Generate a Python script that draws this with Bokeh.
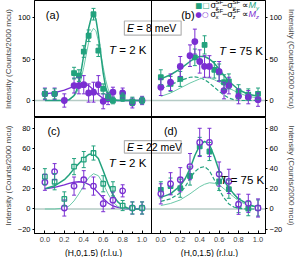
from bokeh.plotting import figure
from bokeh.layouts import gridplot
from bokeh.models import (ColumnDataSource, Whisker, TeeHead, Label, BoxAnnotation, Span,
                          LinearAxis, FixedTicker, Range1d, CustomJSTickFormatter)
from bokeh.embed import file_html
from bokeh.resources import INLINE

GREEN = "#23a27e"
GREEN_L = "#6cc9a9"
PURPLE = "#7a2fd2"
ZERO = "#b5cbc5"
FONT = "Liberation Sans"

# ---------------- data ----------------
x_ticks = [0.0, 0.2, 0.4, 0.6, 0.8, 1.0]
x_minor = [0.1, 0.3, 0.5, 0.7, 0.9]
y_ticks_top = [0, 50, 100]
y_ticks_bot = [-20, 0, 20, 40, 60, 80]

# (a) E = 8 meV, T = 2 K
xa_my = [0.0, 0.1, 0.3, 0.35, 0.4, 0.45, 0.5, 0.55, 0.6, 0.65, 0.7, 0.8, 0.9, 1.0]
ya_my = [8, 8, 33, 30, 59, 78, 104, 60, 14, 5, 0, 4, -1, 0]
ea_my = [6, 6, 7, 7, 7, 7, 7, 7, 6, 5, 4, 5, 5, 4]
xa_mz = [0.0, 0.1, 0.2, 0.3, 0.35, 0.4, 0.45, 0.5, 0.55, 0.6, 0.65, 0.7, 0.8, 0.9, 1.0]
ya_mz = [8, 8, 0, 18, 18, 19, 9, 10, 19, -1, 2, 10, 9, -3, 0]
ea_mz = [7, 7, 8, 9, 10, 11, 11, 12, 11, 9, 7, 6, 6, 6, 5]
fa_x = [0.0, 0.2, 0.25, 0.3, 0.325, 0.35, 0.375, 0.4, 0.425, 0.45, 0.475, 0.5, 0.525, 0.55, 0.575, 0.6, 0.625, 0.65, 0.675, 0.7, 0.75, 1.0]
fa_thick = [0, 0, 1, 6, 12, 22, 37, 55, 72, 87, 99, 104, 98, 80, 56, 33, 16, 7, 2, 0.5, 0, 0]
fa_thin = [0, 0, 1, 5, 9, 16, 27, 40, 55, 70, 82, 87, 84, 72, 56, 40, 25, 14, 7, 3, 0.5, 0]
fa_mz_x = [0.0, 0.1, 0.2, 0.3, 0.35, 0.4, 0.45, 0.5, 0.55, 0.6, 0.65, 0.7, 1.0]
fa_mz = [8, 9.5, 12.5, 17, 19, 20, 18, 13, 7, 2.5, 0.5, 0, 0]

# (b) E = 8 meV, T = 75 K
xb_my = [0.0, 0.1, 0.2, 0.35, 0.45, 0.55, 0.6, 0.65, 0.7, 0.8, 0.9, 1.0]
yb_my = [28, 20, 26, 52, 67, 37, 34, 22, 23, 11, 7, 8]
eb_my = [9, 9, 9, 10, 11, 10, 10, 9, 9, 8, 7, 7]
xb_mz = [0.0, 0.1, 0.2, 0.3, 0.35, 0.4, 0.45, 0.5, 0.6, 0.65, 0.7, 0.8, 0.9, 1.0]
yb_mz = [16, 22, 41, 54, 71, 47, 41, 41, 35, 12, 18, 5, 4, 1]
eb_mz = [10, 10, 12, 13, 15, 14, 13, 13, 12, 10, 10, 9, 8, 8]
fb_x = [0.0, 0.1, 0.2, 0.3, 0.35, 0.4, 0.45, 0.5, 0.55, 0.6, 0.65, 0.7, 0.75, 0.8, 0.9, 1.0]
fb_thick = [26, 31, 38, 47, 51, 53, 53, 50, 45, 38, 30, 23, 18, 13, 7.5, 5]
fb_dash = [14, 19, 24, 28, 28.5, 27.5, 25, 21, 16, 11, 6.5, 3, 1, 0, 0, 0]
fb_thin = [5, 9, 15, 21, 23.5, 26, 27.5, 27, 25, 22, 18.5, 15, 12, 9, 5, 3]

# (c) E = 22 meV, T = 2 K
xc = [0.0, 0.1, 0.2, 0.3, 0.4, 0.5, 0.6, 0.7, 0.8, 0.9, 1.0]
yc_my = [32, 27, 10, 42, 49, 55.5, 25, 20, 3.4, 1, 1]
ec_my = [8, 8, 7, 8, 8, 7, 8, 7, 5, 6, 6]
yc_mz = [26.5, 37, 1, 22.7, 29, 22.7, 5.3, 8.7, 18, 1, 1]
ec_mz = [8, 8, 8, 9, 9, 9, 8, 8, 6, 6, 6]
fc_x = [0.0, 0.1, 0.2, 0.25, 0.3, 0.35, 0.4, 0.45, 0.5, 0.55, 0.6, 0.65, 0.7, 0.75, 0.8, 0.85, 0.9, 1.0]
fc_thick = [20, 23, 29, 34, 40, 45, 50, 54, 55, 50, 38, 25, 14, 7, 3, 1, 0.3, 0]
fc_thin = [0, 0, 1, 3, 8, 15, 23, 31, 35, 33, 25, 15, 7, 2.5, 0.5, 0, 0, 0]
fc_mz = [20, 21.5, 24, 25.5, 26.5, 27, 26.5, 24.5, 21, 16, 10.5, 6, 3, 1.5, 0.5, 0.2, 0, 0]

# (d) E = 22 meV, T = 75 K
xd = [0.0, 0.1, 0.2, 0.3, 0.4, 0.5, 0.6, 0.7, 0.8, 0.9, 1.0]
yd_my = [19, 22.7, 20.6, 32.7, 62, 57, 27.4, 19.6, 3.4, 0.3, 1]
ed_my = [8, 8, 9, 9, 9, 9, 9, 9, 7, 7, 8]
yd_mz = [15, 25, 29, 42, 66, 66, 34.6, 27.4, 4.7, 5.6, 1]
ed_mz = [10, 11, 12, 13, 14, 14, 12, 12, 10, 9, 9]
fd_x = [0.0, 0.1, 0.2, 0.25, 0.3, 0.35, 0.4, 0.45, 0.5, 0.55, 0.6, 0.65, 0.7, 0.75, 0.8, 0.9, 1.0]
fd_thick = [11.5, 15, 23, 30, 40, 53, 63, 67, 64, 52, 38, 28, 21, 15, 10, 4.5, 1.5]
fd_dash = [7.5, 10, 16, 22, 30, 37, 41, 42, 38, 29, 19, 11, 5, 2, 0.5, 0, 0]
fd_thin = [3.4, 5.5, 9, 12, 15, 18.5, 22, 24.5, 26, 25.5, 24, 20, 16, 12, 8, 3.5, 1.5]

# ---------------- layout ----------------
# each row is one figure: the left panel uses the default x range, the right
# panel uses the extra range "R" (same scale, shifted)
LEFT_LO, LEFT_HI = -0.107, 1.097
RIGHT_LO, RIGHT_W = -0.096, 1.173
OFF = LEFT_HI - RIGHT_LO
X_DEF = (LEFT_LO, LEFT_HI + RIGHT_W)
X_R = (LEFT_LO - OFF, LEFT_HI + RIGHT_W - OFF)
YR_T = (-20.5, 120.5)
YR_B = (-24.3, 90.7)
FW, FH_T, FH_B = 231, 117, 116
BL, BR, BB, FH_LAB = 27, 30, 13, 11

YLAB = "Intensity (Counts/2000 mcu)"
XLAB = "(H,0,1.5) (r.l.u.)"


def make_row(yr, fh, bb, frame=True):
    p = figure(frame_width=FW, frame_height=fh, x_range=Range1d(*X_DEF), y_range=Range1d(*yr),
               output_backend="svg", toolbar_location=None,
               x_axis_location=None, y_axis_location=None,
               min_border_left=BL, min_border_right=BR, min_border_top=0, min_border_bottom=bb)
    p.extra_x_ranges = {"R": Range1d(*X_R)}
    p.xgrid.visible = False
    p.ygrid.visible = False
    p.background_fill_color = "white"
    p.border_fill_color = "white"
    if frame:
        p.outline_line_color = "black"
        p.outline_line_width = 1
        p.add_layout(Span(location=0, dimension="width", line_color=ZERO, line_width=1.6, level="underlay"))
        p.add_layout(Span(location=LEFT_HI, dimension="height", line_color="black", line_width=1, level="overlay"))
    else:
        p.outline_line_color = None
    return p


def yaxis(p, side, ticks):
    ax = LinearAxis(ticker=FixedTicker(ticks=ticks))
    ax.axis_line_color = "black"
    ax.major_tick_line_color = "black"
    ax.major_tick_in = 0
    ax.major_tick_out = 2
    ax.minor_tick_in = 0
    ax.minor_tick_out = 0
    ax.major_label_text_font = FONT
    ax.major_label_text_font_size = "7.5px"
    ax.major_label_text_color = "black"
    ax.major_label_standoff = 2
    ax.axis_label = YLAB
    ax.axis_label_text_font = FONT
    ax.axis_label_text_font_size = "8px"
    ax.axis_label_text_font_style = "normal"
    ax.axis_label_standoff = 2
    p.add_layout(ax, side)


def xaxis(p):
    ticks = x_ticks + [round(t + OFF, 4) for t in x_ticks]
    minor = x_minor + [round(t + OFF, 4) for t in x_minor]
    ax = LinearAxis(ticker=FixedTicker(ticks=ticks, minor_ticks=minor))
    ax.formatter = CustomJSTickFormatter(args=dict(off=OFF, edge=LEFT_HI),
                                         code="const v = tick > edge ? tick - off : tick; return v.toFixed(1);")
    ax.axis_line_color = "black"
    ax.major_tick_line_color = "black"
    ax.minor_tick_line_color = "black"
    ax.major_tick_in = 3
    ax.major_tick_out = 0
    ax.minor_tick_in = 2
    ax.minor_tick_out = 0
    ax.major_label_text_font = FONT
    ax.major_label_text_font_size = "7.5px"
    ax.major_label_standoff = 3
    p.add_layout(ax, "below")


def points(p, xs, ys, es, color, marker, filled, size, rn="default"):
    src = ColumnDataSource(dict(x=xs, y=ys, up=[v + e for v, e in zip(ys, es)],
                                lo=[v - e for v, e in zip(ys, es)]))
    w = Whisker(source=src, base="x", upper="up", lower="lo", line_color=color, line_width=1,
                upper_head=TeeHead(size=4, line_color=color, line_width=1),
                lower_head=TeeHead(size=4, line_color=color, line_width=1), level="glyph",
                x_range_name=rn)
    p.add_layout(w)
    p.scatter("x", "y", source=src, marker=marker, size=size, x_range_name=rn,
              fill_color=color if filled else "white", line_color=color, line_width=1.3)


def txt(p, x, y, t, size, color="black", style="normal", align="left", font=FONT, rn="default"):
    p.add_layout(Label(x=x, y=y, text=t, text_font=font, text_font_size=size,
                       text_color=color, text_font_style=style, text_align=align,
                       text_baseline="middle", x_range_name=rn))


def eq(p, xj, y, rest, rn="default"):
    txt(p, xj, y, "T", "11.5px", style="italic", align="right", rn=rn)
    txt(p, xj + 0.034, y, rest, "11.5px", rn=rn)


def ebox(p, left, right, bottom, top, xj, y, rest):
    p.add_layout(BoxAnnotation(left=left, right=right, bottom=bottom, top=top, fill_color="white",
                               fill_alpha=1, line_color="black", line_width=1.2, level="annotation"))
    txt(p, xj, y, "E", "10.5px", style="italic", align="right")
    txt(p, xj + 0.03, y, rest, "10.5px")


top = make_row(YR_T, FH_T, 0)
bot = make_row(YR_B, FH_B, BB)
lab = make_row((0, 1), FH_LAB, 0, frame=False)
yaxis(top, "left", y_ticks_top)
yaxis(top, "right", y_ticks_top)
yaxis(bot, "left", y_ticks_bot)
yaxis(bot, "right", y_ticks_bot)
xaxis(bot)

# x-axis titles, one under each bottom panel
for rn in ["default", "R"]:
    txt(lab, 0.5, 0.5, XLAB, "8.5px", align="center", rn=rn)

# ---- (a)
top.line(fa_mz_x, fa_mz, color=PURPLE, line_width=1.3)
top.line(fa_x, fa_thin, color=GREEN_L, line_width=1)
top.line(fa_x, fa_thick, color=GREEN, line_width=1.5)
points(top, xa_mz, ya_mz, ea_mz, PURPLE, "circle", True, 5.5)
points(top, xa_my, ya_my, ea_my, GREEN, "square", True, 4.5)
txt(top, 0.01, 103, "(a)", "11px")
eq(top, 0.732, 61.4, "= 2 K")

# ---- (b)
top.line(fb_x, fb_dash, color=GREEN, line_width=1.2, line_dash="4 2", x_range_name="R")
top.line(fb_x, fb_thin, color=GREEN_L, line_width=1, x_range_name="R")
top.line(fb_x, fb_thick, color=GREEN, line_width=1.5, x_range_name="R")
points(top, xb_my, yb_my, eb_my, GREEN, "square", True, 4.5, rn="R")
points(top, xb_mz, yb_mz, eb_mz, PURPLE, "circle", True, 5.5, rn="R")
txt(top, 0.209, 103.4, "(b)", "11px", rn="R")
eq(top, 0.672, 59.9, "= 75 K", rn="R")
ebox(top, 0.818, 0.209 + OFF, 78.75, 95.8, 0.916, 87.3, "= 8 meV")
# legend
for (ly, sym, sub, col) in [(115, "\u25a0\u25a1", "y", GREEN), (103.75, "\u25cf\u25cb", "z", PURPLE)]:
    txt(top, 0.355, ly, sym, "7.5px", color=col, font="DejaVu Sans", rn="R")
    txt(top, 0.512, ly, "\u03c3", "9px", rn="R")
    txt(top, 0.562, ly - 3.0, "x", "6px", rn="R")
    txt(top, 0.562, ly + 3.8, "SF", "6px", rn="R")
    txt(top, 0.630, ly, "\u2212\u03c3", "9px", rn="R")
    txt(top, 0.738, ly - 3.0, sub, "6px", rn="R")
    txt(top, 0.738, ly + 3.8, "SF", "6px", rn="R")
    txt(top, 0.834, ly, "\u221d", "9px", rn="R")
    txt(top, 0.902, ly, "M", "9px", color=col, style="italic", rn="R")
    txt(top, 0.978, ly - 3.0, sub, "6px", color=col, style="italic", rn="R")

# ---- (c)
bot.line(fc_x, fc_mz, color=PURPLE, line_width=1.3)
bot.line(fc_x, fc_thin, color=GREEN_L, line_width=1)
bot.line(fc_x, fc_thick, color=GREEN, line_width=1.5)
points(bot, xc, yc_mz, ec_mz, PURPLE, "circle", False, 5.5)
points(bot, xc, yc_my, ec_my, GREEN, "square", False, 4.5)
txt(bot, 0.026, 77.3, "(c)", "11px")
eq(bot, 0.73, 46, "= 2 K")
ebox(bot, 0.818, 0.209 + OFF, 55.4, 67.8, 0.916, 61.6, "= 22 meV")

# ---- (d)
bot.line(fd_x, fd_dash, color=GREEN, line_width=1.2, line_dash="4 2", x_range_name="R")
bot.line(fd_x, fd_thin, color=GREEN_L, line_width=1, x_range_name="R")
bot.line(fd_x, fd_thick, color=GREEN, line_width=1.5, x_range_name="R")
points(bot, xd, yd_my, ed_my, GREEN, "square", True, 4.5, rn="R")
points(bot, xd, yd_mz, ed_mz, PURPLE, "circle", False, 5.5, rn="R")
txt(bot, 0.032, 77.3, "(d)", "11px", rn="R")
eq(bot, 0.685, 29, "= 75 K", rn="R")

grid = gridplot([[top], [bot], [lab]], toolbar_location=None)

open("out.html", "w").write(file_html(grid, INLINE))
